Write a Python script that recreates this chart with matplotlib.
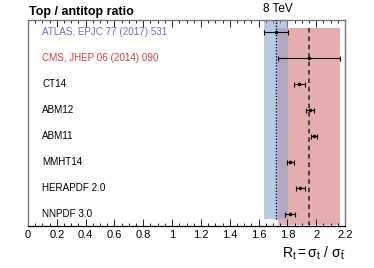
import matplotlib
matplotlib.use("Agg")
import matplotlib.pyplot as plt
from matplotlib.ticker import MultipleLocator

plt.rcParams['font.family'] = ['Liberation Sans', 'DejaVu Sans']
plt.rcParams['mathtext.fontset'] = 'custom'
plt.rcParams['mathtext.rm'] = 'Liberation Sans'
plt.rcParams['mathtext.it'] = 'Liberation Sans'

# measurements / predictions (top to bottom)
labels = ["ATLAS, EPJC 77 (2017) 531", "CMS, JHEP 06 (2014) 090",
          "CT14", "ABM12", "ABM11", "MMHT14", "HERAPDF 2.0", "NNPDF 3.0"]
values = [1.72, 1.95, 1.884, 1.958, 1.986, 1.819, 1.889, 1.819]
errors = [0.085, 0.215, 0.035, 0.028, 0.023, 0.025, 0.032, 0.035]
label_colors = ["#6b6bd6", "#d44040", "black", "black", "black", "black", "black", "black"]

atlas_val, atlas_err = values[0], errors[0]
cms_val, cms_err = values[1], errors[1]

fig = plt.figure(figsize=(3.74, 2.68), dpi=100)
ax = fig.add_axes([0.0749, 0.1567, 0.8476, 0.7687])

ypos = list(range(len(labels)))

# bands
ax.fill_between([cms_val - cms_err, cms_val + cms_err], -0.18, 7.41,
                color="#e6adaf", lw=0, zorder=1)
ax.fill_between([atlas_val - atlas_err, atlas_val + atlas_err], -0.5, 7.19,
                color=(138/255, 165/255, 213/255), alpha=0.6, lw=0, zorder=2)
ax.plot([cms_val, cms_val], [-0.18, 7.41], color="#222222", ls=(0, (3, 2.5)), lw=1.1, zorder=3)
ax.plot([atlas_val, atlas_val], [-0.5, 7.19], color="black", ls=(0, (1, 1.2)), lw=1.0, zorder=3)

ax.errorbar(values, ypos, xerr=errors, fmt='o', ms=1.6, color="black",
            ecolor="black", elinewidth=0.8, capsize=1.8, capthick=0.8, zorder=4)

for y, lab, c in zip(ypos, labels, label_colors):
    ax.text(0.1, y, lab, color=c, fontsize=7.1, va='center', ha='left')

ax.set_xlim(0, 2.2)
ax.set_ylim(7.45, -0.47)
ax.set_yticks([])
ax.xaxis.set_minor_locator(MultipleLocator(0.05))
ax.set_xticks([0, 0.2, 0.4, 0.6, 0.8, 1, 1.2, 1.4, 1.6, 1.8, 2, 2.2])
ax.set_xticklabels(["0", "0.2", "0.4", "0.6", "0.8", "1", "1.2", "1.4", "1.6", "1.8", "2", "2.2"])
ax.tick_params(axis='x', which='both', direction='in', top=True, labelsize=8, pad=3)
ax.tick_params(axis='x', which='major', length=5, width=0.6)
ax.tick_params(axis='x', which='minor', length=2.5, width=0.6)
for s in ['left', 'right', 'top']:
    ax.spines[s].set_color("#777777")
    ax.spines[s].set_linewidth(1.0)
ax.spines['bottom'].set_linewidth(0.9)

ax.set_xlabel(r"$\mathregular{R_t = \sigma_t\ /\ \sigma_{\bar{t}}}$", fontsize=10, loc='right', labelpad=3)

fig.text(0.078, 0.957, "Top / antitop ratio", fontsize=9, fontweight='bold', va='center', ha='left')
fig.text(278/374, 0.966, "8 TeV", fontsize=8.5, va='center', ha='center')

fig.savefig("out.png", dpi=100)
